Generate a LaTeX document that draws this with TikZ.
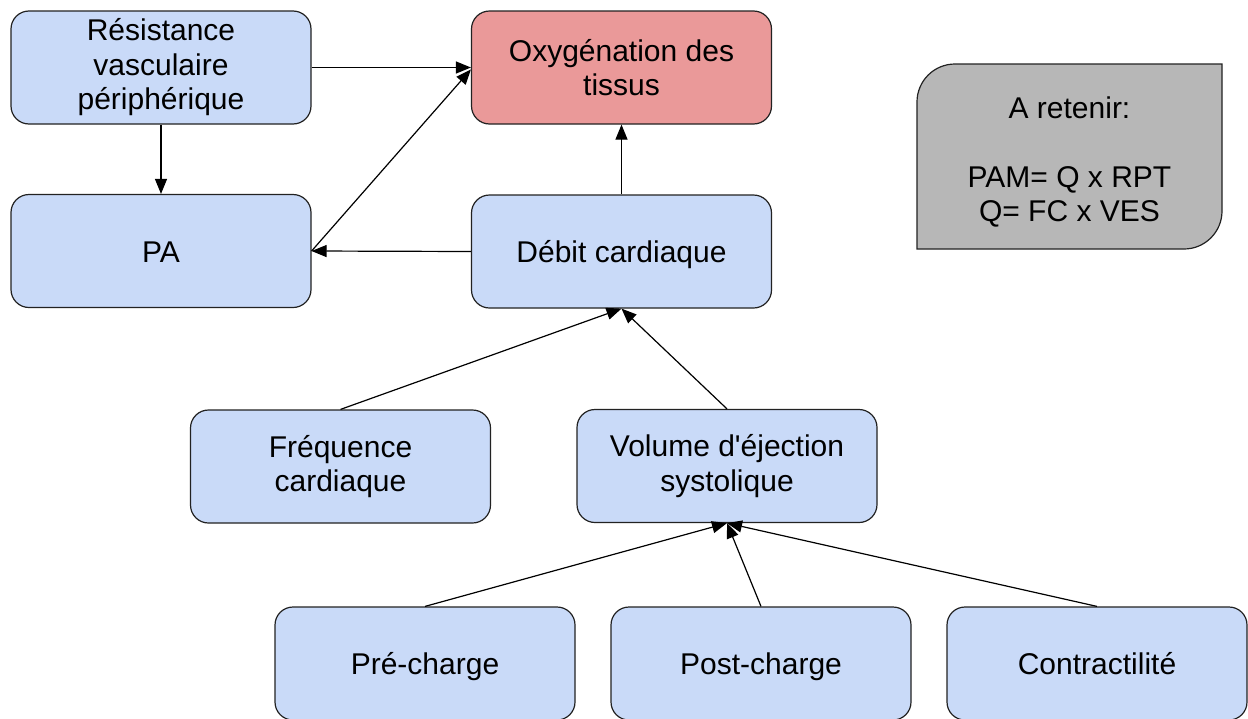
\documentclass[tikz,border=0pt]{standalone}
\usepackage{fontspec}
\setmainfont{Liberation Sans}
\usetikzlibrary{arrows.meta}
\definecolor{boxblue}{HTML}{C9DAF8}
\definecolor{boxred}{HTML}{EA9999}
\definecolor{boxgray}{HTML}{B7B7B7}
\definecolor{edgecol}{HTML}{222222}
\begin{document}
\begin{tikzpicture}[x=1pt,y=-1pt,
  box/.style={draw=edgecol, line width=1.2pt, rounded corners=18pt, fill=boxblue,
    minimum width=300pt, minimum height=113pt, align=center, inner sep=0pt,
    font=\fontsize{30}{34.5}\selectfont},
  single/.style={text height=22pt, text depth=0pt},
  redbox/.style={box, fill=boxred},
  txt/.style={align=center, inner sep=0pt, font=\fontsize{30}{34.5}\selectfont},
  arr/.style={draw=black, line width=1.2pt, -{Triangle[length=15pt,width=12pt]}}]
\useasboundingbox (0,0) rectangle (1248,718);
\fill[white] (0,0) rectangle (1248,718);

% memo box
\draw[draw=edgecol, line width=1.2pt, fill=boxgray]
  (917,249) -- (917,102) .. controls (917,81) and (934,64) .. (955,64)
  -- (1222,64) -- (1222,211) .. controls (1222,232) and (1205,249) .. (1184,249) -- cycle;
\node[txt] (ret) at (1069.5,162) {A retenir:\\[34pt]PAM= Q x RPT\\Q= FC x VES};

% nodes
\node[box] (rvp) at (161,67.5) {Résistance\\vasculaire\\périphérique};
\node[redbox] (oxy) at (621.5,67.5) {Oxygénation des\\tissus};
\node[box, single] (pa) at (161,251) {PA};
\node[box, single] (deb) at (621.5,251.5) {Débit cardiaque};
\node[box] (freq) at (340.5,466.5) {Fréquence\\cardiaque};
\node[box] (ves) at (727,466) {Volume d\textquotesingle éjection\\systolique};
\node[box, single] (pre) at (425,663.5) {Pré-charge};
\node[box, single] (post) at (761,663.5) {Post-charge};
\node[box, single] (con) at (1097,663.5) {Contractilité};

% connectors
\draw[arr] (rvp.east) -- (oxy.west);
\draw[arr] (rvp.south) -- (pa.north);
\draw[arr] (pa.east) -- ([yshift=-2pt]oxy.west);
\draw[arr] (deb.west) -- (pa.east);
\draw[arr] (deb.north) -- (oxy.south);
\draw[arr] (freq.north) -- (deb.south);
\draw[arr] (ves.north) -- (deb.south);
\draw[arr] (pre.north) -- (ves.south);
\draw[arr] (post.north) -- (ves.south);
\draw[arr] (con.north) -- (ves.south);
\end{tikzpicture}
\end{document}
